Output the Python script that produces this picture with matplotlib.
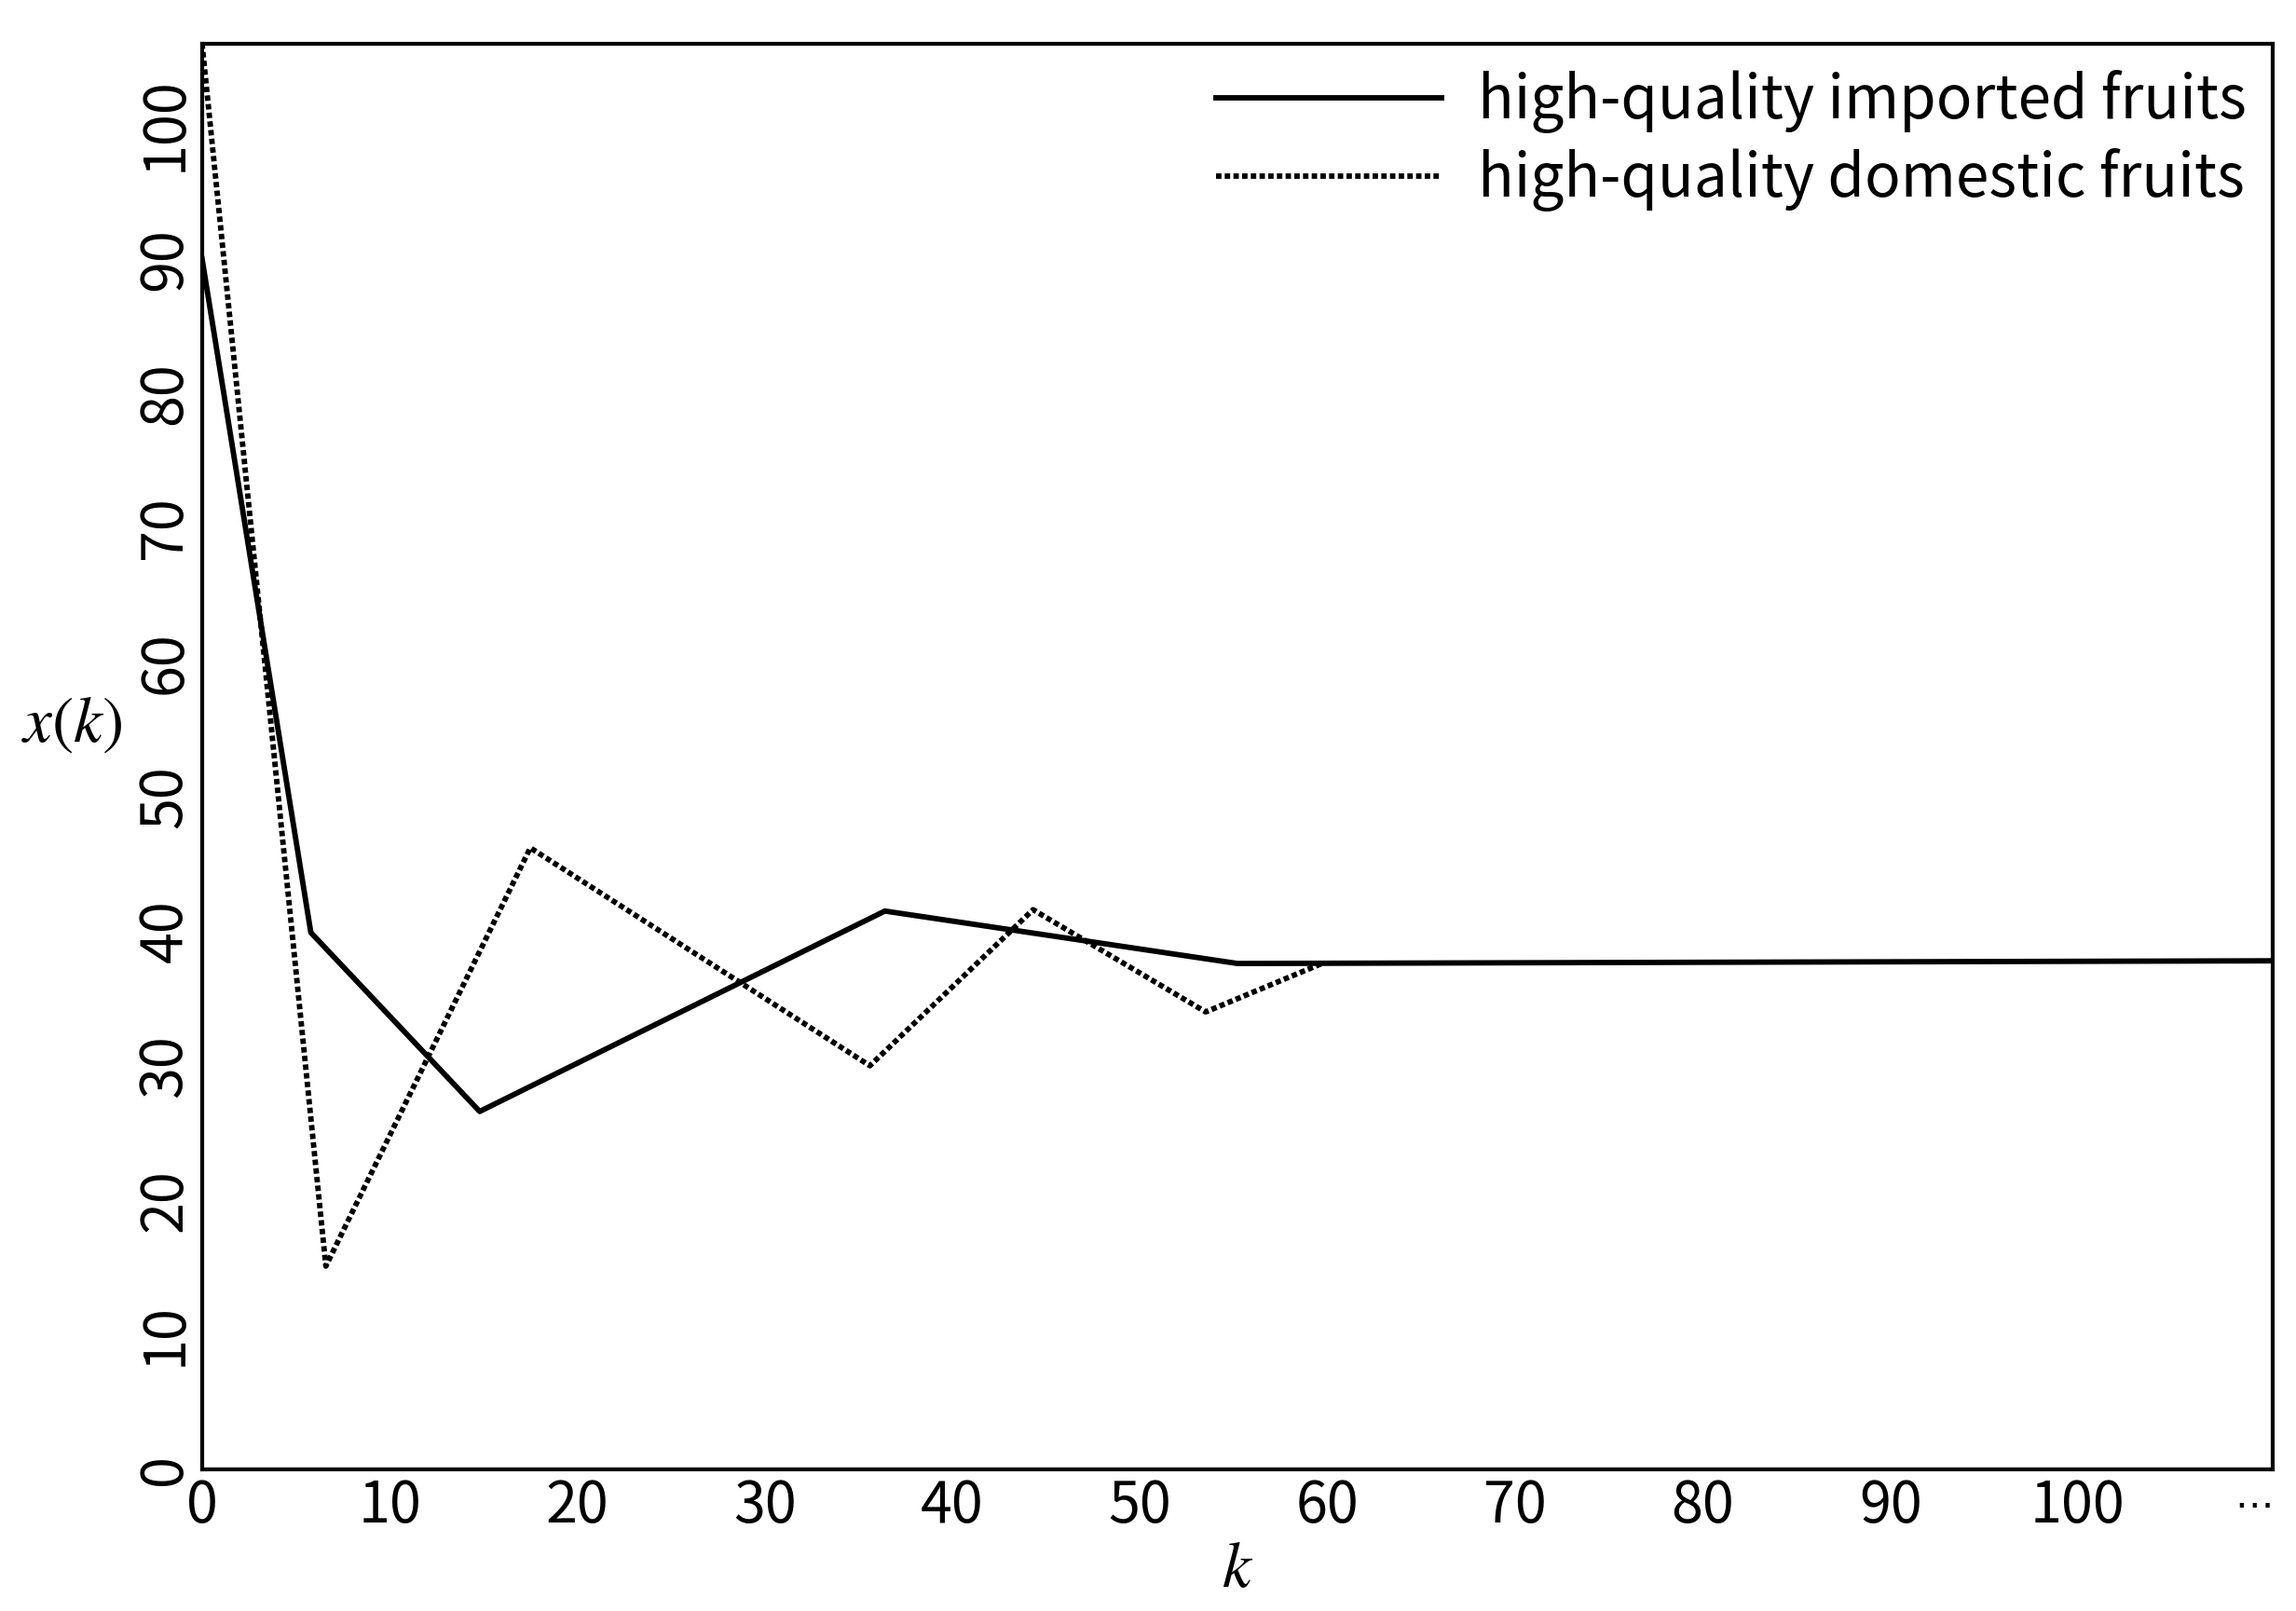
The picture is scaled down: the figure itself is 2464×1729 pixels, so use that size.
import matplotlib
matplotlib.use("Agg")
import matplotlib.pyplot as plt

plt.rcParams['font.family'] = ['Noto Sans CJK SC', 'DejaVu Sans']
plt.rcParams['mathtext.fontset'] = 'stix'

# imported fruits series
imp_k = [0, 5.8, 14.8, 36.4, 55.2, 110.4]
imp_x = [90, 39.9, 26.6, 41.5, 37.6, 37.8]
# domestic fruits series
dom_k = [0, 6.6, 17.5, 35.6, 44.3, 53.5, 59.7]
dom_x = [106, 15.1, 46.2, 30.0, 41.6, 34.0, 37.6]

xticks = [0, 10, 20, 30, 40, 50, 60, 70, 80, 90, 100, 109.4]
xtick_labels = ['0', '10', '20', '30', '40', '50', '60', '70', '80', '90', '100', '\u2026']
yticks = [0, 10, 20, 30, 40, 50, 60, 70, 80, 90, 100]

fig = plt.figure(figsize=(24.64, 17.29), dpi=100)
ax = fig.add_axes([0.088, 0.088, 0.902, 0.885])
ax.plot(imp_k, imp_x, color='black', lw=4.2, label='high-quality imported fruits')
ax.plot(dom_k, dom_x, color='black', lw=4.2, ls=(0, (1, 0.6)), label='high-quality domestic fruits')

ax.set_xlim(0, 110.4)
ax.set_ylim(0, 106)
ax.set_xticks(xticks)
ax.set_xticklabels(xtick_labels)
ax.set_yticks(yticks)
ax.set_yticklabels([str(v) for v in yticks], rotation=90, va='center')
ax.tick_params(length=0, labelsize=44, pad=6)
last = ax.get_xticklabels()[-1]
last.set_fontfamily('DejaVu Sans')
last.set_fontsize(30)
for s in ax.spines.values():
    s.set_linewidth(3)

ax.set_xlabel('$k$', fontsize=50, labelpad=0)
ax.set_ylabel('$x(k)$', fontsize=50, rotation=0, labelpad=10)
ax.yaxis.set_label_coords(-0.063, 0.5)

ax.legend(loc='upper right', fontsize=46, frameon=False, handlelength=3.8,
          borderaxespad=0.05, labelspacing=0.25, handletextpad=0.6)

fig.savefig('out.png', dpi=100)
